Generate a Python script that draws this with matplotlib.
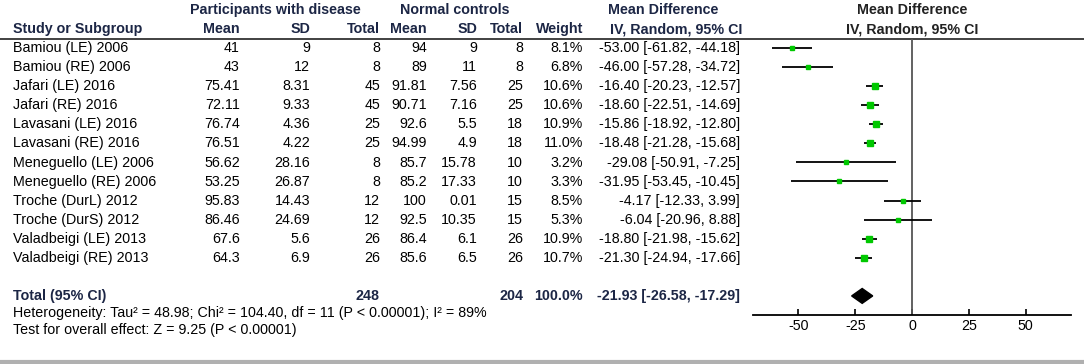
import matplotlib.pyplot as plt

plt.rcParams['font.family'] = ['Liberation Sans', 'DejaVu Sans']
plt.rcParams['axes.unicode_minus'] = False

# study data
studies = ["Bamiou (LE) 2006", "Bamiou (RE) 2006", "Jafari (LE) 2016", "Jafari (RE) 2016",
           "Lavasani (LE) 2016", "Lavasani (RE) 2016", "Meneguello (LE) 2006", "Meneguello (RE) 2006",
           "Troche (DurL) 2012", "Troche (DurS) 2012", "Valadbeigi (LE) 2013", "Valadbeigi (RE) 2013"]
dis_mean = ["41", "43", "75.41", "72.11", "76.74", "76.51", "56.62", "53.25", "95.83", "86.46", "67.6", "64.3"]
dis_sd = ["9", "12", "8.31", "9.33", "4.36", "4.22", "28.16", "26.87", "14.43", "24.69", "5.6", "6.9"]
dis_n = [8, 8, 45, 45, 25, 25, 8, 8, 12, 12, 26, 26]
ctl_mean = ["94", "89", "91.81", "90.71", "92.6", "94.99", "85.7", "85.2", "100", "92.5", "86.4", "85.6"]
ctl_sd = ["9", "11", "7.56", "7.16", "5.5", "4.9", "15.78", "17.33", "0.01", "10.35", "6.1", "6.5"]
ctl_n = [8, 8, 25, 25, 18, 18, 10, 10, 15, 15, 26, 26]
weight = [8.1, 6.8, 10.6, 10.6, 10.9, 11.0, 3.2, 3.3, 8.5, 5.3, 10.9, 10.7]
md = [-53.00, -46.00, -16.40, -18.60, -15.86, -18.48, -29.08, -31.95, -4.17, -6.04, -18.80, -21.30]
ci_lo = [-61.82, -57.28, -20.23, -22.51, -18.92, -21.28, -50.91, -53.45, -12.33, -20.96, -21.98, -24.94]
ci_hi = [-44.18, -34.72, -12.57, -14.69, -12.80, -15.68, -7.25, -10.45, 3.99, 8.88, -15.62, -17.66]

total_weight = 100.0
total_md, total_lo, total_hi = -21.93, -26.58, -17.29
heterogeneity = "Heterogeneity: Tau² = 48.98; Chi² = 104.40, df = 11 (P < 0.00001); I² = 89%"
overall = "Test for overall effect: Z = 9.25 (P < 0.00001)"
ticks = [-50, -25, 0, 25, 50]

W, H = 1084, 364
fig = plt.figure(figsize=(W / 100, H / 100), dpi=100)
bg = fig.add_axes([0, 0, 1, 1])
bg.set_xlim(0, W)
bg.set_ylim(H, 0)
bg.axis('off')

fs = 10.3
hdr = '#1c2645'
row0, step = 48, 19.09
total_row = 13


def ypix(i):
    return row0 + step * i


# headers
bg.text(275, 10, "Participants with disease", ha='center', va='center', fontsize=fs, fontweight='bold', color=hdr)
bg.text(455, 10, "Normal controls", ha='center', va='center', fontsize=fs, fontweight='bold', color=hdr)
bg.text(663, 10, "Mean Difference", ha='center', va='center', fontsize=fs, fontweight='bold', color=hdr)
bg.text(676, 29, "IV, Random, 95% CI", ha='center', va='center', fontsize=fs, fontweight='bold', color=hdr)
bg.text(912, 10, "Mean Difference", ha='center', va='center', fontsize=fs, fontweight='bold', color='#222222')
bg.text(912, 29, "IV, Random, 95% CI", ha='center', va='center', fontsize=fs, fontweight='bold', color='#222222')
bg.text(13, 29, "Study or Subgroup", ha='left', va='center', fontsize=fs, fontweight='bold', color=hdr)
for x, s in [(240, "Mean"), (310, "SD"), (380, "Total"), (427, "Mean"), (477, "SD"), (523, "Total"), (583, "Weight")]:
    bg.text(x, 29, s, ha='right', va='center', fontsize=fs, fontweight='bold', color=hdr)
bg.plot([0, W], [39, 39], color='#333333', lw=1.3)

# study rows
for i, name in enumerate(studies):
    y = ypix(i)
    bg.text(13, y, name, ha='left', va='center', fontsize=fs)
    cells = [(240, dis_mean[i]), (310, dis_sd[i]), (380, str(dis_n[i])),
             (427, ctl_mean[i]), (477, ctl_sd[i]), (523, str(ctl_n[i])),
             (583, f"{weight[i]:.1f}%"),
             (740, f"{md[i]:.2f} [{ci_lo[i]:.2f}, {ci_hi[i]:.2f}]")]
    for x, s in cells:
        bg.text(x, y, s, ha='right', va='center', fontsize=fs)

# total row
yt = ypix(total_row)
bg.text(13, yt, "Total (95% CI)", ha='left', va='center', fontsize=fs, fontweight='bold', color=hdr)
for x, s in [(380, str(sum(dis_n))), (523, str(sum(ctl_n))), (583, f"{total_weight:.1f}%"),
             (740, f"{total_md:.2f} [{total_lo:.2f}, {total_hi:.2f}]")]:
    bg.text(x, yt, s, ha='right', va='center', fontsize=fs, fontweight='bold', color=hdr)
bg.text(13, 313, heterogeneity, ha='left', va='center', fontsize=fs)
bg.text(13, 330, overall, ha='left', va='center', fontsize=fs)
bg.plot([0, W], [362, 362], color='#b0b0b0', lw=3)

# forest plot axes
x0, x1, ytop, ybot = 753, 1071, 39, 315
ax = fig.add_axes([x0 / W, 1 - ybot / H, (x1 - x0) / W, (ybot - ytop) / H])
ax.set_xlim(-70, 70)
ax.set_ylim(14, -0.47)
ax.patch.set_alpha(0)
for s in ['top', 'left', 'right']:
    ax.spines[s].set_visible(False)
ax.spines['bottom'].set_linewidth(1.3)
ax.set_yticks([])
ax.set_xticks(ticks)
ax.tick_params(axis='x', direction='in', length=4, width=1.2, labelsize=fs, pad=3)
ax.axvline(0, color='#555555', lw=1.3)

for i in range(len(studies)):
    ax.hlines(i, ci_lo[i], ci_hi[i], color='black', lw=1.3)
    side = 1.7 * weight[i] ** 0.5
    ax.plot(md[i], i, marker='s', color='#00c800', mec='#00c800', ms=side * 0.72, zorder=3)

dh = 0.39
ax.fill([total_lo, total_md, total_hi, total_md],
        [total_row, total_row - dh, total_row, total_row + dh], color='black', zorder=3)

plt.savefig("out.png", dpi=100)
